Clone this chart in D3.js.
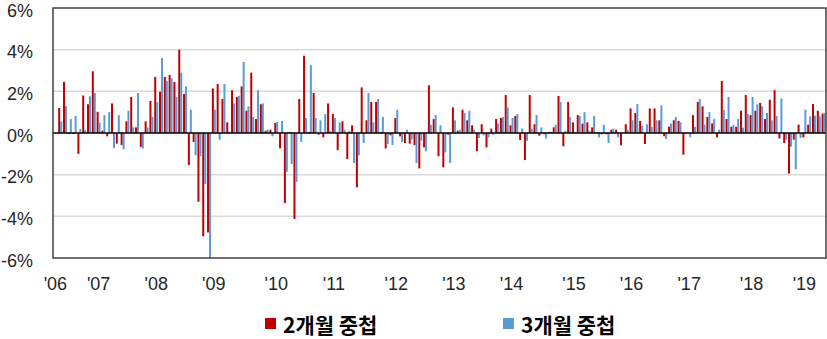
<!DOCTYPE html>
<html>
<head>
<meta charset="utf-8">
<script src="https://cdn.jsdelivr.net/npm/d3@7"></script>
<style>
  body { margin: 0; background: #fff; }
  text { font-family: "Liberation Sans", "Noto Sans CJK KR", sans-serif; }
</style>
</head>
<body>
<svg id="chart" width="827" height="339"></svg>
<script>
// Monthly rates (%) – first slot has no observation
const twoMonth = [null,
  1.2, 2.45, -0.05, -0.05, -1.0, 1.8, 1.38, 2.96, 1.02, 0.11,
  -0.16, 1.42, -0.51, -0.58, 0.56, 1.73, 0.27, -0.67, 0.56, 1.54,
  2.69, 1.98, 2.69, 2.78, 2.45, 4.0, 1.87, -1.54, -0.43, -3.3,
  -4.96, -4.77, 2.14, 2.35, 1.63, 0.51, 2.05, 1.73, 2.24, 1.07,
  2.9, 0.67, 1.38, 0.11, 0.16, 0.48, -0.74, -3.36, 0.05, -4.13,
  1.63, 3.71, 0.05, 1.92, -0.08, -0.21, 1.42, 0.91, -0.83, 0.56,
  -1.25, 0.37, -2.61, 2.19, 0.61, 1.49, 1.49, 0.05, -0.74, -0.11,
  0.72, -0.16, -0.48, -0.51, -0.58, -1.7, -0.69, 2.29, 0.67, -1.12,
  -1.65, -0.08, 1.23, 0.11, 1.12, 0.61, 0.37, -0.88, 0.42, -0.69,
  0.21, 0.67, 0.72, 1.82, 0.37, 0.82, -0.34, -1.3, 1.82, 0.42,
  -0.13, -0.06, 0.05, 0.27, 1.78, -0.64, 1.49, 0.51, 0.86, 0.45,
  0.51, 0.27, 0.03, -0.06, -0.06, 0.16, 0.16, -0.59, 0.42, 1.18,
  0.96, 0.58, -0.53, 1.18, 1.18, 0.61, -0.16, 0.3, 0.61, 0.58,
  -1.04, 0.02, 0.86, 1.49, 1.28, 0.77, 0.46, -0.21, 2.5, 0.67,
  0.3, 0.3, 1.07, 1.82, 0.86, 1.07, 1.44, 0.67, 1.6, 2.05,
  -0.26, -0.48, -1.95, -0.32, 0.4, -0.21, 0.4, 1.39, 1.07, 0.93
];
const threeMonth = [null,
  0.56, 1.3, 0.67, 0.82, 0.2, 0.15, 1.76, 1.92, 0.51, 0.86,
  1.0, -0.72, 0.86, -0.78, 1.07, 0.27, 1.92, -0.74, 0.27, 0.77,
  1.49, 3.6, 2.5, 2.62, 1.73, 2.9, 2.24, 1.12, -1.07, -1.12,
  -2.45, -6.0, 1.12, -0.32, 2.35, 0.06, 1.42, 1.79, 3.41, 1.28,
  0.77, 2.05, 1.42, 0.16, -0.16, 0.53, 0.58, -1.86, -1.49, -2.35,
  -0.43, 0.72, 3.26, 0.72, 0.61, 0.91, 0.1, 0.72, 0.51, 0.16,
  0.1, -1.44, -1.07, -0.48, 1.92, 0.51, 1.63, 0.77, -0.53, -0.58,
  1.12, -0.43, 0.16, -0.32, -1.44, -0.37, -0.88, 0.4, 0.86, 0.37,
  -0.93, -1.44, 0.61, 0.16, 0.96, 1.07, 0.16, -0.24, -0.11, -0.21,
  -0.08, 0.45, 0.77, 1.23, 0.72, 0.91, 0.21, -0.38, 0.21, 0.86,
  0.27, -0.26, 0.06, 0.4, 1.49, 0.11, 0.77, 0.05, 0.82, 1.0,
  0.11, 0.82, -0.21, 0.4, -0.48, 0.21, -0.21, 0.02, 0.16, 0.61,
  1.39, 0.35, 0.42, 0.3, 0.61, 1.33, -0.29, 0.46, 0.77, 0.51,
  -0.05, -0.21, 0.3, 1.63, 0.4, 1.0, 0.67, 0.16, 1.12, 1.73,
  0.4, 0.67, 0.26, 0.91, 1.73, 1.38, 1.28, 0.96, 0.61, 0.82,
  1.66, -0.32, -0.66, -1.74, -0.24, 1.12, 0.8, 0.83, 0.8, 0.96
];

const seriesNames = ["2개월 중첩", "3개월 중첩"];
const seriesColors = ["#c00000", "#5b9bd5"];
const yTicks = [-6, -4, -2, 0, 2, 4, 6];
const yearLabels = ["'06", "'07", "'08", "'09", "'10", "'11", "'12", "'13", "'14", "'15", "'16", "'17", "'18", "'19"];
const yearLabelAt = [0, 9, 21, 33, 46, 58, 71, 83, 95, 108, 120, 132, 145, 156];

const svg = d3.select("#chart");
const plot = { left: 53, right: 826, top: 8, bottom: 258 };

const periods = d3.range(twoMonth.length);
const x0 = d3.scaleBand().domain(periods).range([plot.left, plot.right]).paddingInner(0.17).paddingOuter(0.085);
const x1 = d3.scaleBand().domain([0, 1]).range([0, x0.bandwidth()]);
const y = d3.scaleLinear().domain([-6, 6]).range([plot.bottom, plot.top]);

// grid lines
svg.append("g")
  .selectAll("line")
  .data(yTicks.filter(t => t !== 0 && Math.abs(t) !== 6))
  .join("line")
  .attr("x1", plot.left).attr("x2", plot.right)
  .attr("y1", d => y(d)).attr("y2", d => y(d))
  .attr("stroke", "#d9d9d9").attr("stroke-width", 1.5);

// y-axis labels
const yAxis = d3.axisLeft(y).tickValues(yTicks).tickFormat(d => d + "%").tickSize(0).tickPadding(20);
svg.append("g")
  .attr("transform", `translate(${plot.left},0)`)
  .call(yAxis)
  .call(g => g.select(".domain").remove())
  .call(g => g.selectAll("text").attr("font-size", 18).attr("fill", "#262626").attr("dy", "0.46em")
    .style("font-family", "'Liberation Sans', sans-serif"));

// bars
const series = [twoMonth, threeMonth];
series.forEach((vals, s) => {
  svg.append("g")
    .attr("fill", seriesColors[s])
    .selectAll("rect")
    .data(periods.filter(i => vals[i] != null))
    .join("rect")
    .attr("x", i => x0(i) + x1(s))
    .attr("width", x1.bandwidth())
    .attr("y", i => y(Math.max(0, vals[i])))
    .attr("height", i => Math.abs(y(vals[i]) - y(0)));
});

// zero line
svg.append("line")
  .attr("x1", plot.left).attr("x2", plot.right)
  .attr("y1", y(0)).attr("y2", y(0))
  .attr("stroke", "#000").attr("stroke-width", 1.5);

// plot frame
svg.append("rect")
  .attr("x", plot.left).attr("y", plot.top)
  .attr("width", plot.right - plot.left).attr("height", plot.bottom - plot.top)
  .attr("fill", "none").attr("stroke", "#404040").attr("stroke-width", 1.5);

// year labels
const xAxis = d3.axisBottom(x0)
  .tickValues(yearLabelAt)
  .tickFormat((d, i) => yearLabels[i])
  .tickSize(0).tickPadding(19);
svg.append("g")
  .attr("transform", `translate(0,${plot.bottom})`)
  .call(xAxis)
  .call(g => g.select(".domain").remove())
  .call(g => g.selectAll("text").attr("font-size", 18).attr("fill", "#262626")
    .style("font-family", "'Liberation Sans', sans-serif"));

// legend
const legendX = [265, 503];
const legend = svg.append("g").selectAll("g")
  .data(seriesNames)
  .join("g")
  .attr("transform", (d, i) => `translate(${legendX[i]},318)`);
legend.append("rect").attr("width", 11).attr("height", 11).attr("fill", (d, i) => seriesColors[i]);
legend.append("text")
  .attr("x", 18).attr("y", 15)
  .attr("font-size", 21).attr("font-weight", "bold").attr("fill", "#000")
  .style("font-family", "'Noto Sans CJK KR', sans-serif")
  .text(d => d);
</script>
</body>
</html>
